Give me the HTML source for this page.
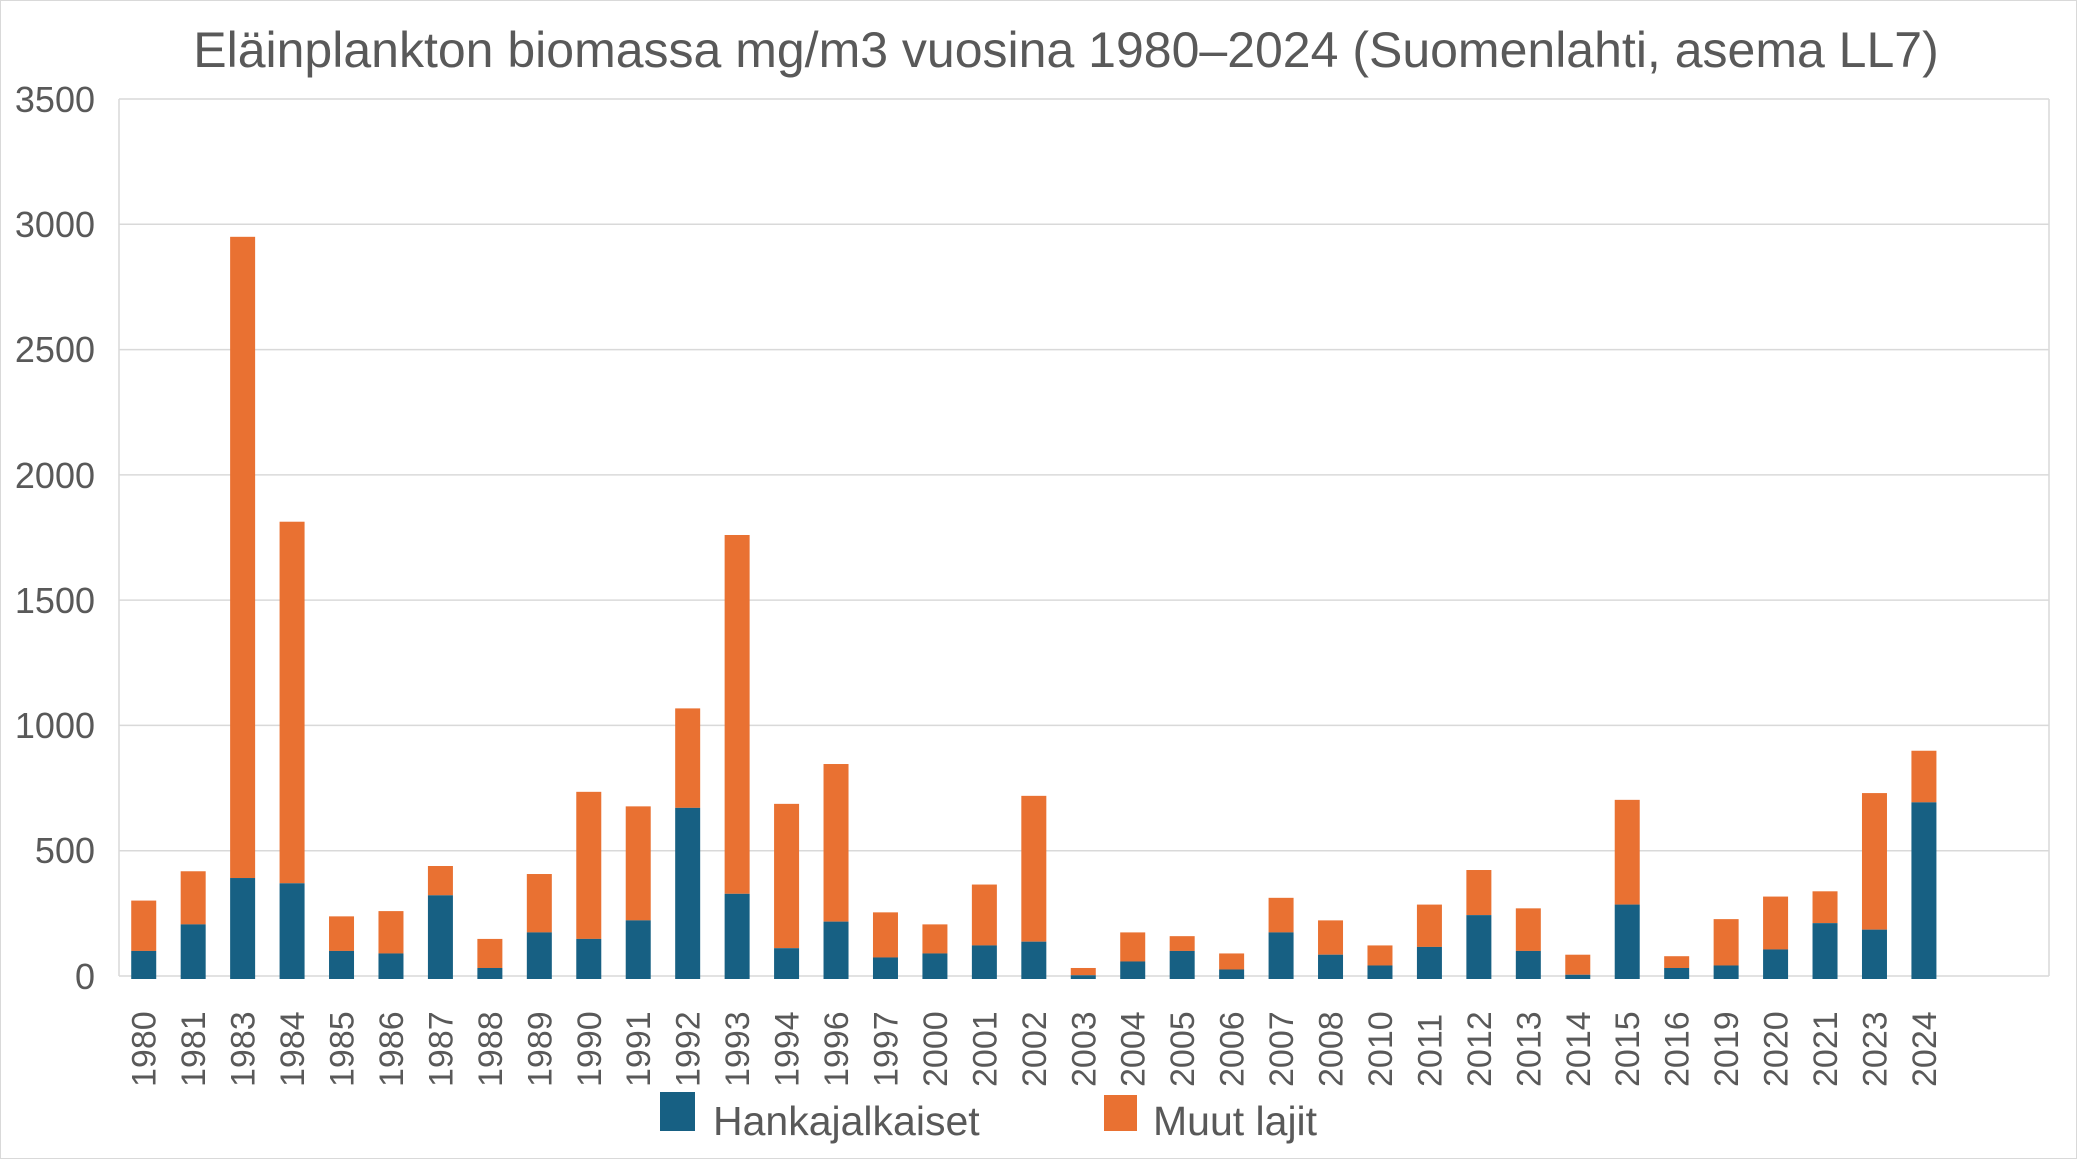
<!DOCTYPE html>
<html><head><meta charset="utf-8"><style>
html,body{margin:0;padding:0;background:#fff}
svg{display:block}
text{font-family:"Liberation Sans",Arial,sans-serif;fill:#595959}
</style></head><body>
<svg width="2077" height="1159" viewBox="0 0 2077 1159" xmlns="http://www.w3.org/2000/svg">
<rect x="0.5" y="0.5" width="2076" height="1158" fill="#fff" stroke="#d9d9d9"/>
<text x="1066" y="67" font-size="50" text-anchor="middle">Eläinplankton biomassa mg/m3 vuosina 1980–2024 (Suomenlahti, asema LL7)</text>
<g stroke="#d9d9d9" stroke-width="1.5">
<line x1="119" y1="99" x2="2049" y2="99"/>
<line x1="119" y1="224.3" x2="2049" y2="224.3"/>
<line x1="119" y1="349.6" x2="2049" y2="349.6"/>
<line x1="119" y1="474.9" x2="2049" y2="474.9"/>
<line x1="119" y1="600.1" x2="2049" y2="600.1"/>
<line x1="119" y1="725.4" x2="2049" y2="725.4"/>
<line x1="119" y1="850.7" x2="2049" y2="850.7"/>
<line x1="119" y1="976" x2="2049" y2="976"/>
<line x1="119" y1="99" x2="119" y2="976"/>
<line x1="2049" y1="99" x2="2049" y2="976"/>
</g>
<g font-size="36" text-anchor="end">
<text x="95" y="112">3500</text>
<text x="95" y="237">3000</text>
<text x="95" y="362">2500</text>
<text x="95" y="488">2000</text>
<text x="95" y="613">1500</text>
<text x="95" y="738">1000</text>
<text x="95" y="863">500</text>
<text x="95" y="989">0</text>
</g>
<g id="bars"></g>
<g id="labels" font-size="34"></g>
<rect x="660" y="1092" width="35" height="39" fill="#176083"/>
<text x="713" y="1135" font-size="41">Hankajalkaiset</text>
<rect x="1104" y="1095" width="33" height="36" fill="#E97132"/>
<text x="1153" y="1135" font-size="41">Muut lajit</text>
<script>
var d=[["1980",301,100],["1981",418,206],["1983",2950,391],["1984",1813,370],["1985",238,100],["1986",259,90],["1987",439,322],["1988",148,32],["1989",407,174],["1990",735,148],["1991",677,222],["1992",1068,671],["1993",1760,328],["1994",687,111],["1996",846,217],["1997",254,74],["2000",206,90],["2001",365,122],["2002",719,137],["2003",32,3],["2004",174,58],["2005",159,100],["2006",90,26],["2007",312,174],["2008",222,85],["2010",122,42],["2011",285,116],["2012",423,243],["2013",270,100],["2014",85,5],["2015",703,285],["2016",79,32],["2019",227,42],["2020",317,106],["2021",338,211],["2023",730,185],["2024",899,693]];
var ns="http://www.w3.org/2000/svg",b=document.getElementById("bars"),l=document.getElementById("labels");
var k=877/3500,w=25;
d.forEach(function(r,i){
var cx=119+49.45*(i+0.5);
var yb=976-r[2]*k, yt=976-r[1]*k;
var o=document.createElementNS(ns,"rect");o.setAttribute("x",cx-w/2);o.setAttribute("y",yt);o.setAttribute("width",w);o.setAttribute("height",yb-yt);o.setAttribute("fill","#E97132");b.appendChild(o);
var q=document.createElementNS(ns,"rect");q.setAttribute("x",cx-w/2);q.setAttribute("y",yb);q.setAttribute("width",w);q.setAttribute("height",979-yb);q.setAttribute("fill","#176083");b.appendChild(q);
var t=document.createElementNS(ns,"text");t.setAttribute("transform","translate("+(cx+12)+",1087) rotate(-90)");t.textContent=r[0];l.appendChild(t);
});
</script>
</svg>
</body></html>
